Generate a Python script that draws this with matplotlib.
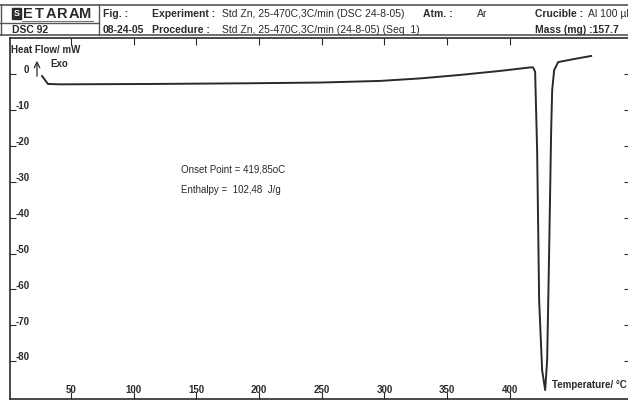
import numpy as np
import matplotlib.pyplot as plt
from matplotlib.patches import Rectangle
from matplotlib.transforms import ScaledTranslation

# DSC trace (temperature in C, heat flow in mW)
temp = [26.9, 31.6, 41.2, 113, 193, 249, 296.6, 328.5, 360.5, 392.4, 416.3,
        418.7, 420.3, 421.9, 423.5, 425.9, 428.3, 429.9, 431.5, 433.1, 433.9,
        435.5, 438.7, 452.2, 465]
heat = [-0.6, -2.8, -2.9, -2.8, -2.6, -2.4, -1.95, -1.25, -0.28, 0.84, 1.81,
        1.81, 0.56, -21.2, -63, -82.5, -88, -79.7, -49, -15.6, -4.5,
        1.1, 3.3, 4.2, 5.0]

xticks = [50, 100, 150, 200, 250, 300, 350, 400]
yticks = [0, -10, -20, -30, -40, -50, -60, -70, -80]

row1 = [("Fig. :", 103, True), ("Experiment :", 152, True),
        ("Std Zn, 25-470C,3C/min (DSC 24-8-05)", 222, False),
        ("Atm. :", 423, True), ("Ar", 477, False),
        ("Crucible :", 535, True), ("Al 100 µl", 588, False)]
row2 = [("08-24-05", 103, True), ("Procedure :", 152, True),
        ("Std Zn, 25-470C,3C/min (24-8-05) (Seq  1)", 222, False),
        ("Mass (mg) :157.7", 535, True)]

plt.rcParams['font.family'] = ['Liberation Sans', 'DejaVu Sans']
ink = '#2a2a2a'

W, H = 628, 401
fig = plt.figure(figsize=(W / 100, H / 100), dpi=100)

ax = fig.add_axes([10 / W, 2 / H, 620 / W, 361 / H])
ax.plot(temp, heat, color=ink, lw=1.4)
ax.set_xlim(1.3, 496)
ax.set_ylim(-90.5, 10.0)
for s in ax.spines.values():
    s.set_color(ink)
    s.set_linewidth(1.2)
ax.set_xticks(xticks)
ax.set_yticks(yticks)
ax.set_yticklabels([str(v) for v in yticks])
ax.tick_params(axis='x', direction='in', length=5, top=True, pad=-10,
               labelsize=7, colors=ink)
ax.tick_params(axis='y', direction='in', length=4, width=0.8, right=True,
               pad=-14, labelsize=7, colors=ink)
up = ScaledTranslation(0, 3.5 / 72, fig.dpi_scale_trans)
for lab in ax.get_xticklabels():
    lab.set_fontweight('bold')
for lab in ax.get_yticklabels():
    lab.set_fontweight('bold')
    lab.set_transform(lab.get_transform() + up)

ax.text(434, -86.5, "Temperature/ °C", fontsize=7, fontweight='bold',
        color=ink, va='center', ha='left', clip_on=False)
ax.text(137.8, -26.7, "Onset Point = 419,85oC", fontsize=7, color=ink,
        va='center')
ax.text(137.8, -32.3, "Enthalpy =  102,48  J/g", fontsize=7, color=ink,
        va='center')

# overlay in pixel units for the header block
ov = fig.add_axes([0, 0, 1, 1])
ov.set_xlim(0, W)
ov.set_ylim(H, 0)
ov.axis('off')
ov.patch.set_alpha(0)

ov.plot([0, W], [5, 5], color='#555', lw=1.2)
ov.plot([0, W], [35, 35], color='#555', lw=1.2)
ov.plot([0, 99], [23, 23], color='#555', lw=1.0)
ov.plot([99, 99], [5, 35], color='#555', lw=1.0)
ov.plot([1, 1], [5, 35], color='#555', lw=1.0)

# logo
ov.add_patch(Rectangle((12, 8), 9, 11, color=ink))
ov.text(16.5, 13.5, "S", color='white', fontsize=6.5, fontweight='bold',
        ha='center', va='center')
for i, ch in enumerate("ETARAM"):
    ov.text(28 + i * 11.5, 13.5, ch, color=ink, fontsize=10.5,
            fontweight='heavy', va='center', ha='center')
ov.plot([22, 93], [20.5, 20.5], color='#777', lw=0.8)
ov.text(12, 30, "DSC 92", color=ink, fontsize=7.5, fontweight='bold',
        va='center')

for txt, x, bold in row1:
    ov.text(x, 14, txt, fontsize=7.5, color=ink, va='center',
            fontweight='bold' if bold else 'normal')
for txt, x, bold in row2:
    ov.text(x, 30, txt, fontsize=7.5, color=ink, va='center',
            fontweight='bold' if bold else 'normal')

ov.text(11, 50, "Heat Flow/ mW", fontsize=7, fontweight='bold', color=ink,
        va='center')
ov.annotate("", xy=(37, 58), xytext=(37, 79),
            arrowprops=dict(arrowstyle='->', color=ink, lw=0.9))
ov.text(50, 64, "Exo", fontsize=7, fontweight='bold', color=ink, va='center')

fig.savefig('out.png', dpi=100)
